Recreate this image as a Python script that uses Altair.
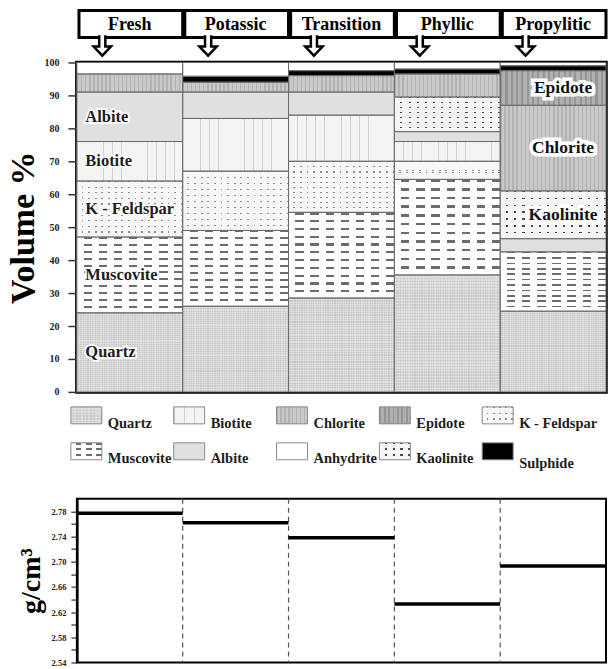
import altair as alt
import pandas as pd

# ---------------- data ----------------
zones = ["Fresh", "Potassic", "Transition", "Phyllic", "Propylitic"]
minerals = ["Quartz", "Muscovite", "K - Feldspar", "Biotite", "Albite",
            "Kaolinite", "Chlorite", "Epidote", "Sulphide", "Anhydrite"]
quartz = [24, 26, 28.5, 35.5, 24.5]
muscovite = [23, 23, 26, 29, 18]
kfeldspar = [17, 18, 15.5, 5.5, 0]
biotite = [12, 16, 14, 6, 0]
albite = [15, 8, 7, 3, 4]
kaolinite = [0, 0, 0, 10.5, 14.5]
chlorite = [5.5, 3, 5, 7, 26]
epidote = [0, 0, 0, 0, 10.5]
sulphide = [0, 1.8, 1.5, 1.5, 1.5]
anhydrite = [3.5, 4.2, 2.5, 2, 1]
density = [2.777, 2.762, 2.738, 2.633, 2.693]
density_ticks = [2.54, 2.56, 2.58, 2.60, 2.62, 2.64, 2.66, 2.68, 2.70, 2.72, 2.74, 2.76, 2.78]
volume_ticks = [0, 10, 20, 30, 40, 50, 60, 70, 80, 90, 100]
legend_order = ["Quartz", "Biotite", "Chlorite", "Epidote", "K - Feldspar",
                "Muscovite", "Albite", "Anhydrite", "Kaolinite", "Sulphide"]
labels_fresh = ["Albite", "Biotite", "K - Feldspar", "Muscovite", "Quartz"]
labels_prop = ["Epidote", "Chlorite", "Kaolinite"]

# ---------------- styles ----------------
fills = ["#d2d2d2", "#ffffff", "#f7f7f7", "#f4f4f4", "#e0e0e0",
         "#f5f5f5", "#c4c4c4", "#a8a8a8", "#000000", "#ffffff"]
SERIF = "Liberation Serif"
W = 530


def grad(n, frac, c_on, c_off, vertical):
    stops = []
    for k in range(n):
        a = round(k / n, 4)
        b = round((k + frac) / n, 4)
        c = round((k + 1) / n, 4)
        stops += [alt.GradientStop(offset=a, color=c_on),
                  alt.GradientStop(offset=b, color=c_on),
                  alt.GradientStop(offset=b, color=c_off),
                  alt.GradientStop(offset=c, color=c_off)]
    return alt.LinearGradient(gradient="linear", stops=stops, x1=0, y1=0,
                              x2=0 if vertical else 1,
                              y2=1 if vertical else 0)


CLEAR = "rgba(255,255,255,0)"
# (mineral, base stripes, cutting overlay or None)
tex_main = [
    ("Muscovite", (11, 0.28, "#6c6c6c", "#ffffff", True), (7, 0.45, "#ffffff")),
    ("K - Feldspar", (10, 0.2, "#8c8c8c", "#f7f7f7", True), (16, 0.72, "#f7f7f7")),
    ("Kaolinite", (7, 0.22, "#4a4a4a", "#f5f5f5", True), (13, 0.74, "#f5f5f5")),
    ("Chlorite", (26, 0.35, "#b2b2b2", "#c9c9c9", False), None),
    ("Epidote", (20, 0.4, "#959595", "#b0b0b0", False), None),
    ("Biotite", (12, 0.08, "#d2d2d2", "#f4f4f4", False), None),
    ("Quartz", (40, 0.5, "#c6c6c6", "#dadada", True), (45, 0.5, "rgba(230,230,230,0.55)")),
]
tex_leg = [
    ("Muscovite", (3, 0.3, "#6c6c6c", "#ffffff", True), (3, 0.45, "#ffffff")),
    ("K - Feldspar", (3, 0.25, "#8c8c8c", "#f7f7f7", True), (5, 0.7, "#f7f7f7")),
    ("Kaolinite", (3, 0.25, "#4a4a4a", "#f5f5f5", True), (4, 0.72, "#f5f5f5")),
    ("Chlorite", (8, 0.35, "#b2b2b2", "#c9c9c9", False), None),
    ("Epidote", (7, 0.4, "#959595", "#b0b0b0", False), None),
    ("Biotite", (3, 0.08, "#d2d2d2", "#f4f4f4", False), None),
    ("Quartz", (6, 0.5, "#c6c6c6", "#dadada", True), (9, 0.5, "rgba(230,230,230,0.55)")),
]

series = [quartz, muscovite, kfeldspar, biotite, albite,
          kaolinite, chlorite, epidote, sulphide, anhydrite]
rows = []
for zi, z in enumerate(zones):
    cum = 0.0
    for m, vals in zip(minerals, series):
        v = vals[zi]
        if v > 0:
            rows.append(dict(zone=z, idx=zi, mineral=m, start=cum,
                             end=cum + v, mid=cum + v / 2))
        cum += v
seg = pd.DataFrame(rows)
zdf = pd.DataFrame(dict(zone=zones, idx=list(range(len(zones))), density=density))
leg = pd.DataFrame(dict(mineral=legend_order,
                        k=list(range(len(legend_order)))))

xscale = alt.Scale(domain=[0, 5], nice=False, zero=False)
color = alt.Color("mineral:N", scale=alt.Scale(domain=minerals, range=fills),
                  legend=None)


def texture_layers(base, tex, enc):
    out = []
    for m, b, cut in tex:
        f = base.transform_filter(alt.FieldEqualPredicate(field="mineral", equal=m))
        out.append(f.mark_rect(fill=grad(*b), strokeWidth=0).encode(**enc))
        if cut is not None:
            out.append(f.mark_rect(fill=grad(cut[0], cut[1], cut[2], CLEAR, False),
                                   strokeWidth=0).encode(**enc))
    return out


# ---------------- header ----------------
hbase = alt.Chart(zdf).transform_calculate(
    bx0="datum.idx + 0.02", bx1="datum.idx + 1", xc="datum.idx + 0.5",
    ax="datum.idx + 0.24")
boxes = hbase.mark_rect(fill="white", stroke="black", strokeWidth=3).encode(
    x=alt.X("bx0:Q", scale=xscale, axis=None), x2="bx1:Q",
    y=alt.value(10), y2=alt.value(37))
htext = hbase.mark_text(font=SERIF, fontWeight="bold", fontSize=18,
                        color="black", baseline="middle").encode(
    x=alt.X("xc:Q", scale=xscale, axis=None), y=alt.value(24), text="zone:N")
arrow_path = "M0.3,-1L0.3,0.1L0.85,0.1L0,1L-0.85,0.1L-0.3,0.1L-0.3,-1"
arrows = hbase.mark_point(shape=arrow_path, size=420, filled=True,
                          fill="white", stroke="black", strokeWidth=2.5,
                          opacity=1, fillOpacity=1).encode(
    x=alt.X("ax:Q", scale=xscale, axis=None), y=alt.value(45))
header = alt.layer(boxes, arrows, htext).properties(
    width=W, height=62, view=alt.ViewBackground(stroke=None))

# ---------------- stacked volume chart ----------------
yaxis = alt.Axis(values=volume_ticks, title="Volume %", titleFont=SERIF,
                 titleFontSize=34, titleFontWeight="bold", titleColor="black",
                 titlePadding=3, labelFont=SERIF, labelFontSize=10,
                 labelFontWeight="bold", labelColor="#222", tickSize=9,
                 tickColor="#333", tickWidth=1.5, domain=False, grid=False,
                 labelPadding=9)
yscale = alt.Scale(domain=[0, 100], nice=False, zero=False)
sbase = alt.Chart(seg).transform_calculate(
    x0="datum.idx", x1="datum.idx + 1", lx="datum.idx + 0.08",
    cx="datum.idx + 0.5")
benc = dict(x=alt.X("x0:Q", scale=xscale, axis=None), x2="x1:Q",
            y=alt.Y("start:Q", scale=yscale, axis=yaxis), y2="end:Q")
bars = sbase.mark_rect(strokeWidth=0).encode(color=color, **benc)
outline = sbase.mark_rect(fill="white", fillOpacity=0, stroke="#6a6a6a",
                          strokeWidth=0.9).encode(**benc)
fbase = sbase.transform_filter(
    alt.FieldEqualPredicate(field="zone", equal="Fresh")).transform_filter(
    alt.FieldOneOfPredicate(field="mineral", oneOf=labels_fresh))
fenc = dict(x=alt.X("lx:Q", scale=xscale, axis=None),
            y=alt.Y("mid:Q", scale=yscale, axis=yaxis), text="mineral:N")
fhalo = fbase.mark_text(align="left", baseline="middle", font=SERIF,
                        fontWeight="bold", fontSize=16.5, color="white",
                        stroke="white", strokeWidth=4,
                        strokeOpacity=0.85).encode(**fenc)
flab = fbase.mark_text(align="left", baseline="middle", font=SERIF,
                       fontWeight="bold", fontSize=16.5,
                       color="#1e1e1e").encode(**fenc)
pbase = sbase.transform_filter(
    alt.FieldEqualPredicate(field="zone", equal="Propylitic")).transform_filter(
    alt.FieldOneOfPredicate(field="mineral", oneOf=labels_prop))
penc = dict(x=alt.X("cx:Q", scale=xscale, axis=None),
            y=alt.Y("mid:Q", scale=yscale, axis=yaxis), text="mineral:N")
phalo = pbase.mark_text(align="center", baseline="middle", font=SERIF,
                        fontWeight="bold", fontSize=17.5, dx=10, color="white",
                        stroke="white", strokeWidth=7).encode(**penc)
plab = pbase.mark_text(align="center", baseline="middle", font=SERIF,
                       fontWeight="bold", fontSize=17.5, dx=10,
                       color="#111").encode(**penc)
main = alt.layer(bars, *texture_layers(sbase, tex_main, benc), outline,
                 fhalo, flab, phalo, plab).properties(
    width=W, height=330,
    view=alt.ViewBackground(stroke="black", strokeWidth=3.5))

# ---------------- legend ----------------
lbase = alt.Chart(leg).transform_calculate(
    col="datum.k % 5", row="floor(datum.k / 5)").transform_calculate(
    sx0="-6 + 103 * datum.col", sx1="-6 + 103 * datum.col + 31",
    sy0="15 + 36 * datum.row", sy1="32 + 36 * datum.row",
    tx="-6 + 103 * datum.col + 37",
    ty="datum.mineral == 'Sulphide' ? 72 : 32 + 35 * datum.row")
lenc = dict(x=alt.X("sx0:Q", scale=None, axis=None), x2="sx1:Q",
            y=alt.Y("sy0:Q", scale=None, axis=None), y2="sy1:Q")
lrect = lbase.mark_rect(strokeWidth=0).encode(color=color, **lenc)
lout = lbase.mark_rect(fill="white", fillOpacity=0, stroke="#8a8a8a",
                       strokeWidth=1).encode(**lenc)
ltext = lbase.mark_text(align="left", baseline="middle", font=SERIF,
                        fontWeight="bold", fontSize=14.5, color="#1e1e1e").encode(
    x=alt.X("tx:Q", scale=None, axis=None),
    y=alt.Y("ty:Q", scale=None, axis=None), text="mineral:N")
legend = alt.layer(lrect, *texture_layers(lbase, tex_leg, lenc), lout,
                   ltext).properties(
    width=W, height=107, view=alt.ViewBackground(stroke=None))

# ---------------- density chart ----------------
dscale = alt.Scale(domain=[2.54, 2.80], nice=False, zero=False)
daxis = alt.Axis(values=density_ticks, title="g/cm³", titleFont=SERIF,
                 titleFontSize=28, titleFontWeight="bold", titleColor="black",
                 titlePadding=6, labelFont=SERIF, labelFontSize=8.5,
                 labelFontWeight="bold", labelColor="#222",
                 labelExpr="round((datum.value - 2.54) * 100) % 4 == 0 ? format(datum.value, '.2f') : ''",
                 tickSize=6, tickColor="#333", tickWidth=1.2, domain=True,
                 domainColor="black", domainWidth=2.5, grid=False,
                 labelPadding=5)
DH = 164
dbase = alt.Chart(zdf).transform_calculate(x0="datum.idx", x1="datum.idx + 1")
dlines = dbase.mark_rule(color="black", strokeWidth=3.5).encode(
    x=alt.X("x0:Q", scale=xscale, axis=None), x2="x1:Q",
    y=alt.Y("density:Q", scale=dscale, axis=daxis))
dsep = dbase.transform_filter("datum.idx > 0").mark_rule(
    color="#555", strokeWidth=1.2, strokeDash=[5, 4]).encode(
    x=alt.X("x0:Q", scale=xscale, axis=None),
    y=alt.value(0), y2=alt.value(DH))
bottom = alt.layer(dsep, dlines).properties(
    width=W, height=DH,
    view=alt.ViewBackground(stroke="black", strokeWidth=2))

chart = alt.vconcat(header, main, legend, bottom, spacing=0,
                    bounds="flush").properties(
    padding={"left": 5, "top": 0, "right": 0, "bottom": 0},
    background="white")

chart.save("out.html", embed_options={"renderer": "svg", "actions": False})
